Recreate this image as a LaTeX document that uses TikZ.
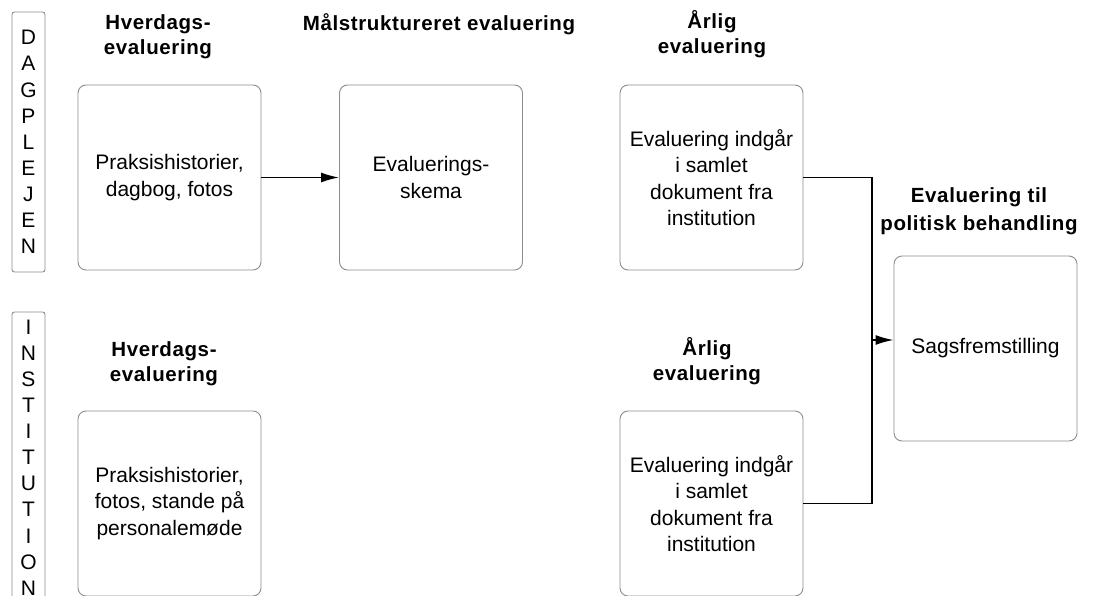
\documentclass[tikz,border=0pt]{standalone}
\usepackage{fontspec}
\setmainfont{Liberation Sans}
\newfontfamily\titlefont[LetterSpace=3]{Liberation Sans}
\usetikzlibrary{arrows.meta}
\definecolor{boxgray}{HTML}{8C8C8C}
\begin{document}
\begin{tikzpicture}[x=1pt,y=-1pt,
  box/.style={draw=boxgray, line width=0.9pt, rounded corners=8pt,
    minimum width=183pt, minimum height=185pt, align=center, inner sep=0pt,
    font=\fontsize{21}{26.5}\selectfont},
  lane/.style={draw=boxgray, line width=0.9pt, rounded corners=2.5pt,
    minimum width=33pt, align=center, inner sep=0pt,
    font=\fontsize{21}{26.1}\selectfont},
  head/.style={align=center, inner sep=0pt,
    font=\titlefont\bfseries\fontsize{20.5}{25}\selectfont},
  conn/.style={line width=1.6pt, draw=black},
  arrowed/.style={-{Latex[length=18pt,width=10pt]}}
]
\useasboundingbox (0,0) rectangle (1095,596);

% lanes
\node[lane, minimum height=260pt] (dag) at (28.5,142) {D\\A\\G\\P\\L\\E\\J\\E\\N};
\node[lane, minimum height=291pt] (inst) at (28.5,457.5) {I\\N\\S\\T\\I\\T\\U\\T\\I\\O\\N};

% headings
\node[head] (h1) at (158,36.5) {Hverdags-\\evaluering};
\node[head, anchor=base] (h2) at (439,30.5) {Målstruktureret evaluering};
\node[head] (h3) at (712,34.5) {Årlig\\evaluering};
\node[head, font=\titlefont\bfseries\fontsize{20.5}{28}\selectfont] (h4) at (979,211) {Evaluering til\\politisk behandling};
\node[head] (h5) at (164,364) {Hverdags-\\evaluering};
\node[head] (h6) at (707,361.5) {Årlig\\evaluering};

% boxes
\node[box] (b1) at (169.5,177.5) {Praksishistorier,\\dagbog, fotos};
\node[box] (b2) at (431,177.5) {Evaluerings-\\skema};
\node[box] (b3) at (711.5,177.5) {Evaluering indgår\\i samlet\\dokument fra\\institution};
\node[box] (b4) at (985.5,348.5) {Sagsfremstilling};
\node[box] (b5) at (169.5,503.5) {Praksishistorier,\\fotos, stande på\\personalemøde};
\node[box] (b6) at (711.5,503.5) {Evaluering indgår\\i samlet\\dokument fra\\institution};

% connectors
\coordinate (jm) at (872,340);
\draw[conn, arrowed] (b1.east) -- (b2.west);
\draw[conn] (b3.east) -| (jm);
\draw[conn] (b6.east) -| (jm);
\draw[conn, arrowed] (jm) -- (b4.west |- jm);
\end{tikzpicture}
\end{document}
